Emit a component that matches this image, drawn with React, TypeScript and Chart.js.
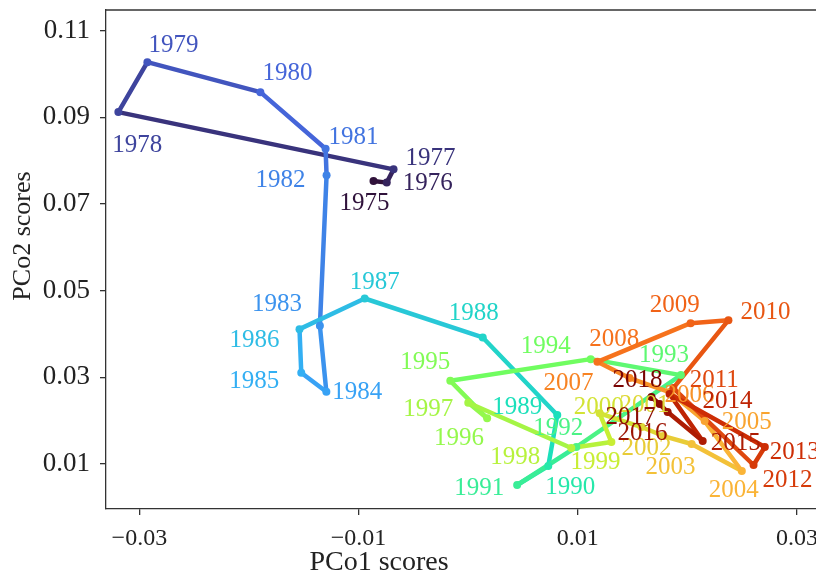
import React, { useEffect, useRef } from "react";
import { Chart, registerables } from "chart.js";

Chart.register(...registerables);

const years = [
  1975, 1976, 1977, 1978, 1979, 1980, 1981, 1982, 1983, 1984, 1985, 1986, 1987, 1988, 1989,
  1990, 1991, 1992, 1993, 1994, 1995, 1996, 1997, 1998, 1999, 2000, 2001, 2002, 2003, 2004,
  2005, 2006, 2007, 2008, 2009, 2010, 2011, 2012, 2013, 2014, 2015, 2016, 2017, 2018,
];

const pco1 = [
  -0.00864, -0.00743, -0.00681, -0.03192, -0.02927, -0.01896, -0.01301, -0.01292, -0.01353,
  -0.01294, -0.01523, -0.01539, -0.00944, 0.00133, 0.00813, 0.00731, 0.00447, 0.00987, 0.01941,
  0.01118, -0.00163, 0.00173, 0.00001, 0.00941, 0.01307, 0.012, 0.01582, 0.01783, 0.02039,
  0.02497, 0.02158, 0.01838, 0.01472, 0.01179, 0.0203, 0.02375, 0.01872, 0.02604, 0.02707,
  0.01838, 0.0214, 0.0182, 0.01747, 0.01673,
];

const pco2 = [
  0.07528, 0.07491, 0.07797, 0.09118, 0.1027, 0.09578, 0.08274, 0.07659, 0.04187, 0.02666,
  0.03104, 0.04111, 0.04818, 0.03919, 0.02129, 0.00954, 0.00516, 0.01392, 0.03051, 0.03419,
  0.02919, 0.02053, 0.02412, 0.01369, 0.01507, 0.02168, 0.01853, 0.01645, 0.01461, 0.00839,
  0.01991, 0.02659, 0.02982, 0.03357, 0.04249, 0.04318, 0.02751, 0.00977, 0.01392, 0.02613,
  0.0153, 0.02198, 0.02382, 0.02544,
];

const xTickValues = [-0.03, -0.01, 0.01, 0.03];
const yTickValues = [0.01, 0.03, 0.05, 0.07, 0.09, 0.11];
const xTitle = "PCo1 scores";
const yTitle = "PCo2 scores";

// label offsets in pixels (layout only)
const labelOffsets: [number, number][] = [
  [-9, 22], [41, 1], [37, -11], [19, 33], [26, -17], [27, -19], [28, -11], [-46, 5], [-43, -21],
  [31, 1], [-47, 9], [-45, 11], [10, -16], [-9, -24], [-40, -8], [22, 21], [-38, 3], [-18, -19],
  [-17, -20], [-45, -13], [-25, -18], [-28, 20], [-40, 7], [-56, 9], [-16, 20], [-1, -6],
  [3, -22], [-17, 12], [-21, 23], [-8, 19], [42, 1], [20, 3], [-61, 5], [17, -22], [-16, -18],
  [37, -8], [41, -8], [34, 15], [30, 5], [58, 7], [33, 2], [-25, 21], [-29, 13], [-14, -17],
];

// turbo colour map stops (style)
const turboStops = [
  "#30123B", "#4662D7", "#36AAF9", "#1AE4B6", "#72FE5E",
  "#C7EF34", "#FABA39", "#F66B19", "#CB2A04", "#7A0403",
];

function hexToRgb(h: string): number[] {
  return [1, 3, 5].map((k) => parseInt(h.slice(k, k + 2), 16));
}

function turbo(t: number): string {
  const n = turboStops.length - 1;
  const p = Math.max(0, Math.min(1, t)) * n;
  const i = Math.min(n - 1, Math.floor(p));
  const f = p - i;
  const a = hexToRgb(turboStops[i]);
  const b = hexToRgb(turboStops[i + 1]);
  const c = a.map((v, k) => Math.round(v + (b[k] - v) * f));
  return `rgb(${c[0]},${c[1]},${c[2]})`;
}

const colors = years.map((_, i) => turbo(i / (years.length - 1)));

const fmt = (v: number) => (v < 0 ? "\u2212" + Math.abs(v).toFixed(2) : v.toFixed(2));

const FONT = '"Liberation Serif", "Times New Roman", serif';

const labelPlugin = {
  id: "yearLabels",
  afterDatasetsDraw(chart: any) {
    const ctx = chart.ctx as CanvasRenderingContext2D;
    const meta = chart.getDatasetMeta(0);
    const a = chart.chartArea;
    ctx.save();
    ctx.font = `25px ${FONT}`;
    ctx.textAlign = "center";
    ctx.textBaseline = "middle";
    meta.data.forEach((pt: any, i: number) => {
      ctx.fillStyle = colors[i];
      ctx.fillText(String(years[i]), pt.x + labelOffsets[i][0], pt.y + labelOffsets[i][1]);
    });
    // top frame line
    ctx.strokeStyle = "#333";
    ctx.lineWidth = 1.3;
    ctx.beginPath();
    ctx.moveTo(a.left, a.top);
    ctx.lineTo(a.right + 20, a.top);
    ctx.stroke();
    // axis titles
    ctx.fillStyle = "#222";
    ctx.font = `28px ${FONT}`;
    ctx.textBaseline = "middle";
    ctx.fillText(xTitle, 379, 563);
    ctx.font = `26px ${FONT}`;
    ctx.translate(23, 236);
    ctx.rotate(-Math.PI / 2);
    ctx.fillText(yTitle, 0, 0);
    ctx.restore();
  },
};

export default function App() {
  const ref = useRef<HTMLCanvasElement | null>(null);

  useEffect(() => {
    if (!ref.current) return;
    const points = years.map((_, i) => ({ x: pco1[i], y: pco2[i] }));
    const chart = new Chart(ref.current, {
      type: "scatter",
      data: {
        datasets: [
          {
            data: points,
            showLine: true,
            borderWidth: 4.5,
            borderCapStyle: "round",
            borderJoinStyle: "round",
            pointRadius: 4,
            pointBackgroundColor: colors,
            pointBorderColor: colors,
            pointBorderWidth: 0,
            clip: false,
            segment: {
              borderColor: (c: any) => colors[c.p0DataIndex],
            },
          } as any,
        ],
      },
      options: {
        animation: false,
        responsive: false,
        maintainAspectRatio: false,
        layout: { padding: { top: 10, right: 0, left: 0, bottom: 0 } },
        plugins: { legend: { display: false }, tooltip: { enabled: false } },
        scales: {
          x: {
            type: "linear",
            min: -0.033047,
            max: 0.031922,
            afterBuildTicks: (s: any) => {
              s.ticks = xTickValues.map((v) => ({ value: v }));
            },
            afterFit: (s: any) => {
              s.height = 68;
              s.paddingLeft = 0;
              s.paddingRight = 0;
            },
            grid: { drawOnChartArea: false, drawTicks: true, tickLength: 6, color: "#333", lineWidth: 1.3 },
            border: { display: true, color: "#333", width: 1.3 },
            ticks: {
              font: { family: FONT, size: 24 },
              color: "#222",
              padding: 9,
              maxRotation: 0,
              autoSkip: false,
              callback: (v: any) => fmt(Number(v)),
            },
          },
          y: {
            type: "linear",
            min: -0.00038,
            max: 0.11473,
            afterBuildTicks: (s: any) => {
              s.ticks = yTickValues.map((v) => ({ value: v }));
            },
            afterFit: (s: any) => {
              s.width = 106;
              s.paddingTop = 0;
              s.paddingBottom = 0;
            },
            grid: { drawOnChartArea: false, drawTicks: true, tickLength: 6, color: "#333", lineWidth: 1.3 },
            border: { display: true, color: "#333", width: 1.3 },
            ticks: {
              font: { family: FONT, size: 27 },
              color: "#222",
              padding: 10,
              autoSkip: false,
              callback: (v: any) => fmt(Number(v)),
            },
          },
        },
      },
      plugins: [labelPlugin],
    } as any);
    return () => chart.destroy();
  }, []);

  return (
    <div style={{ position: "fixed", left: 0, top: 0, width: 816, height: 577, background: "#fff", overflow: "hidden" }}>
      <canvas ref={ref} width={822} height={577} style={{ display: "block", width: 822, height: 577 }} />
    </div>
  );
}
